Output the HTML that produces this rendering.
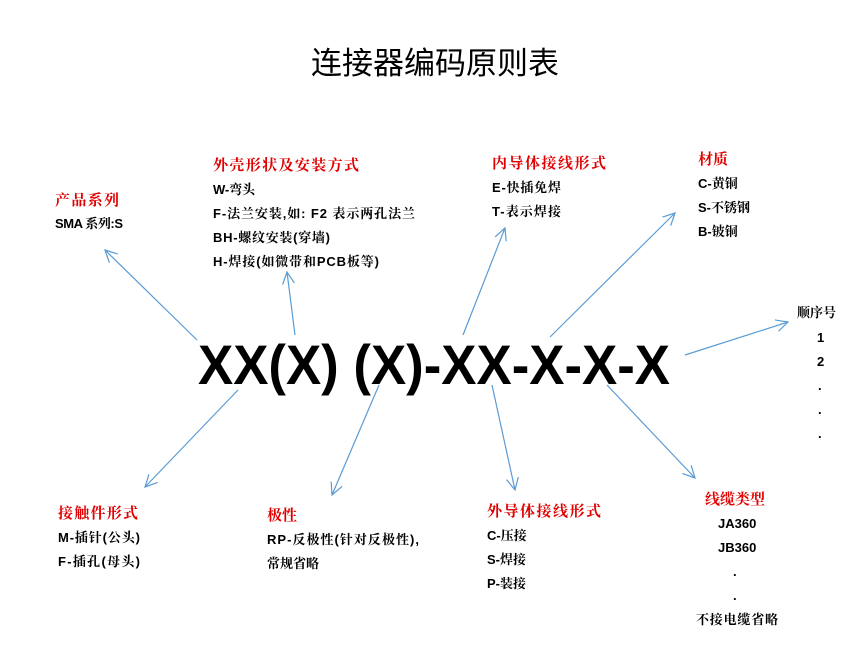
<!DOCTYPE html>
<html><head><meta charset="utf-8"><style>
body{margin:0;background:#fff}
svg text{font-family:"Liberation Sans","Noto Serif CJK SC",serif}
.h{fill:#e00000;font-weight:bold;font-size:15px}
.t{fill:#000;font-weight:bold;font-size:13px}
</style></head><body>
<svg width="867" height="657" xmlns="http://www.w3.org/2000/svg">
<defs><marker id="a" markerWidth="14" markerHeight="14" refX="12" refY="7" orient="auto" markerUnits="userSpaceOnUse"><path d="M0,1 L12,7 L0,13" fill="none" stroke="#5b9bd5" stroke-width="1.2"/></marker></defs>
<text x="435" y="74" font-size="31" text-anchor="middle" style="font-family:'Noto Sans CJK SC',sans-serif">连接器编码原则表</text>
<text x="198" y="384" font-size="56" font-weight="bold" textLength="472" lengthAdjust="spacingAndGlyphs">XX(X) (X)-XX-X-X-X</text>
<g stroke="#5b9bd5" stroke-width="1.2" marker-end="url(#a)">
<line x1="197" y1="340" x2="105" y2="250"/>
<line x1="295" y1="335" x2="287" y2="272"/>
<line x1="463" y1="335" x2="505" y2="228"/>
<line x1="550" y1="337" x2="675" y2="213"/>
<line x1="685" y1="355" x2="788" y2="322"/>
<line x1="238" y1="390" x2="145" y2="487"/>
<line x1="379" y1="385" x2="332" y2="495"/>
<line x1="492" y1="385" x2="515" y2="490"/>
<line x1="607" y1="385" x2="695" y2="478"/>
</g>
<text class="h" x="55" y="205" textLength="64">产品系列</text>
<text class="t" x="55" y="228" textLength="68">SMA 系列:S</text>
<text class="h" x="213" y="170" textLength="146">外壳形状及安装方式</text>
<text class="t" x="213" y="194" textLength="42">W-弯头</text>
<text class="t" x="213" y="218" textLength="202">F-法兰安装,如: F2 表示两孔法兰</text>
<text class="t" x="213" y="242" textLength="117">BH-螺纹安装(穿墙)</text>
<text class="t" x="213" y="266" textLength="166">H-焊接(如微带和PCB板等)</text>
<text class="h" x="492" y="168" textLength="114">内导体接线形式</text>
<text class="t" x="492" y="192" textLength="69">E-快插免焊</text>
<text class="t" x="492" y="216" textLength="69">T-表示焊接</text>
<text class="h" x="698" y="164">材质</text>
<text class="t" x="698" y="188">C-黄铜</text>
<text class="t" x="698" y="212">S-不锈钢</text>
<text class="t" x="698" y="236">B-铍铜</text>
<text class="t" x="797" y="317">顺序号</text>
<text class="t" x="817" y="342">1</text>
<text class="t" x="817" y="366">2</text>
<text class="t" x="818" y="390">.</text>
<text class="t" x="818" y="414">.</text>
<text class="t" x="818" y="438">.</text>
<text class="h" x="58" y="518" textLength="80">接触件形式</text>
<text class="t" x="58" y="542" textLength="82">M-插针(公头)</text>
<text class="t" x="58" y="566" textLength="82">F-插孔(母头)</text>
<text class="h" x="267" y="520">极性</text>
<text class="t" x="267" y="544" textLength="152">RP-反极性(针对反极性),</text>
<text class="t" x="267" y="568">常规省略</text>
<text class="h" x="487" y="516" textLength="114">外导体接线形式</text>
<text class="t" x="487" y="540">C-压接</text>
<text class="t" x="487" y="564">S-焊接</text>
<text class="t" x="487" y="588">P-装接</text>
<text class="h" x="705" y="504">线缆类型</text>
<text class="t" x="718" y="528">JA360</text>
<text class="t" x="718" y="552">JB360</text>
<text class="t" x="733" y="576">.</text>
<text class="t" x="733" y="600">.</text>
<text class="t" x="696" y="624" textLength="82">不接电缆省略</text>
</svg>
</body></html>
